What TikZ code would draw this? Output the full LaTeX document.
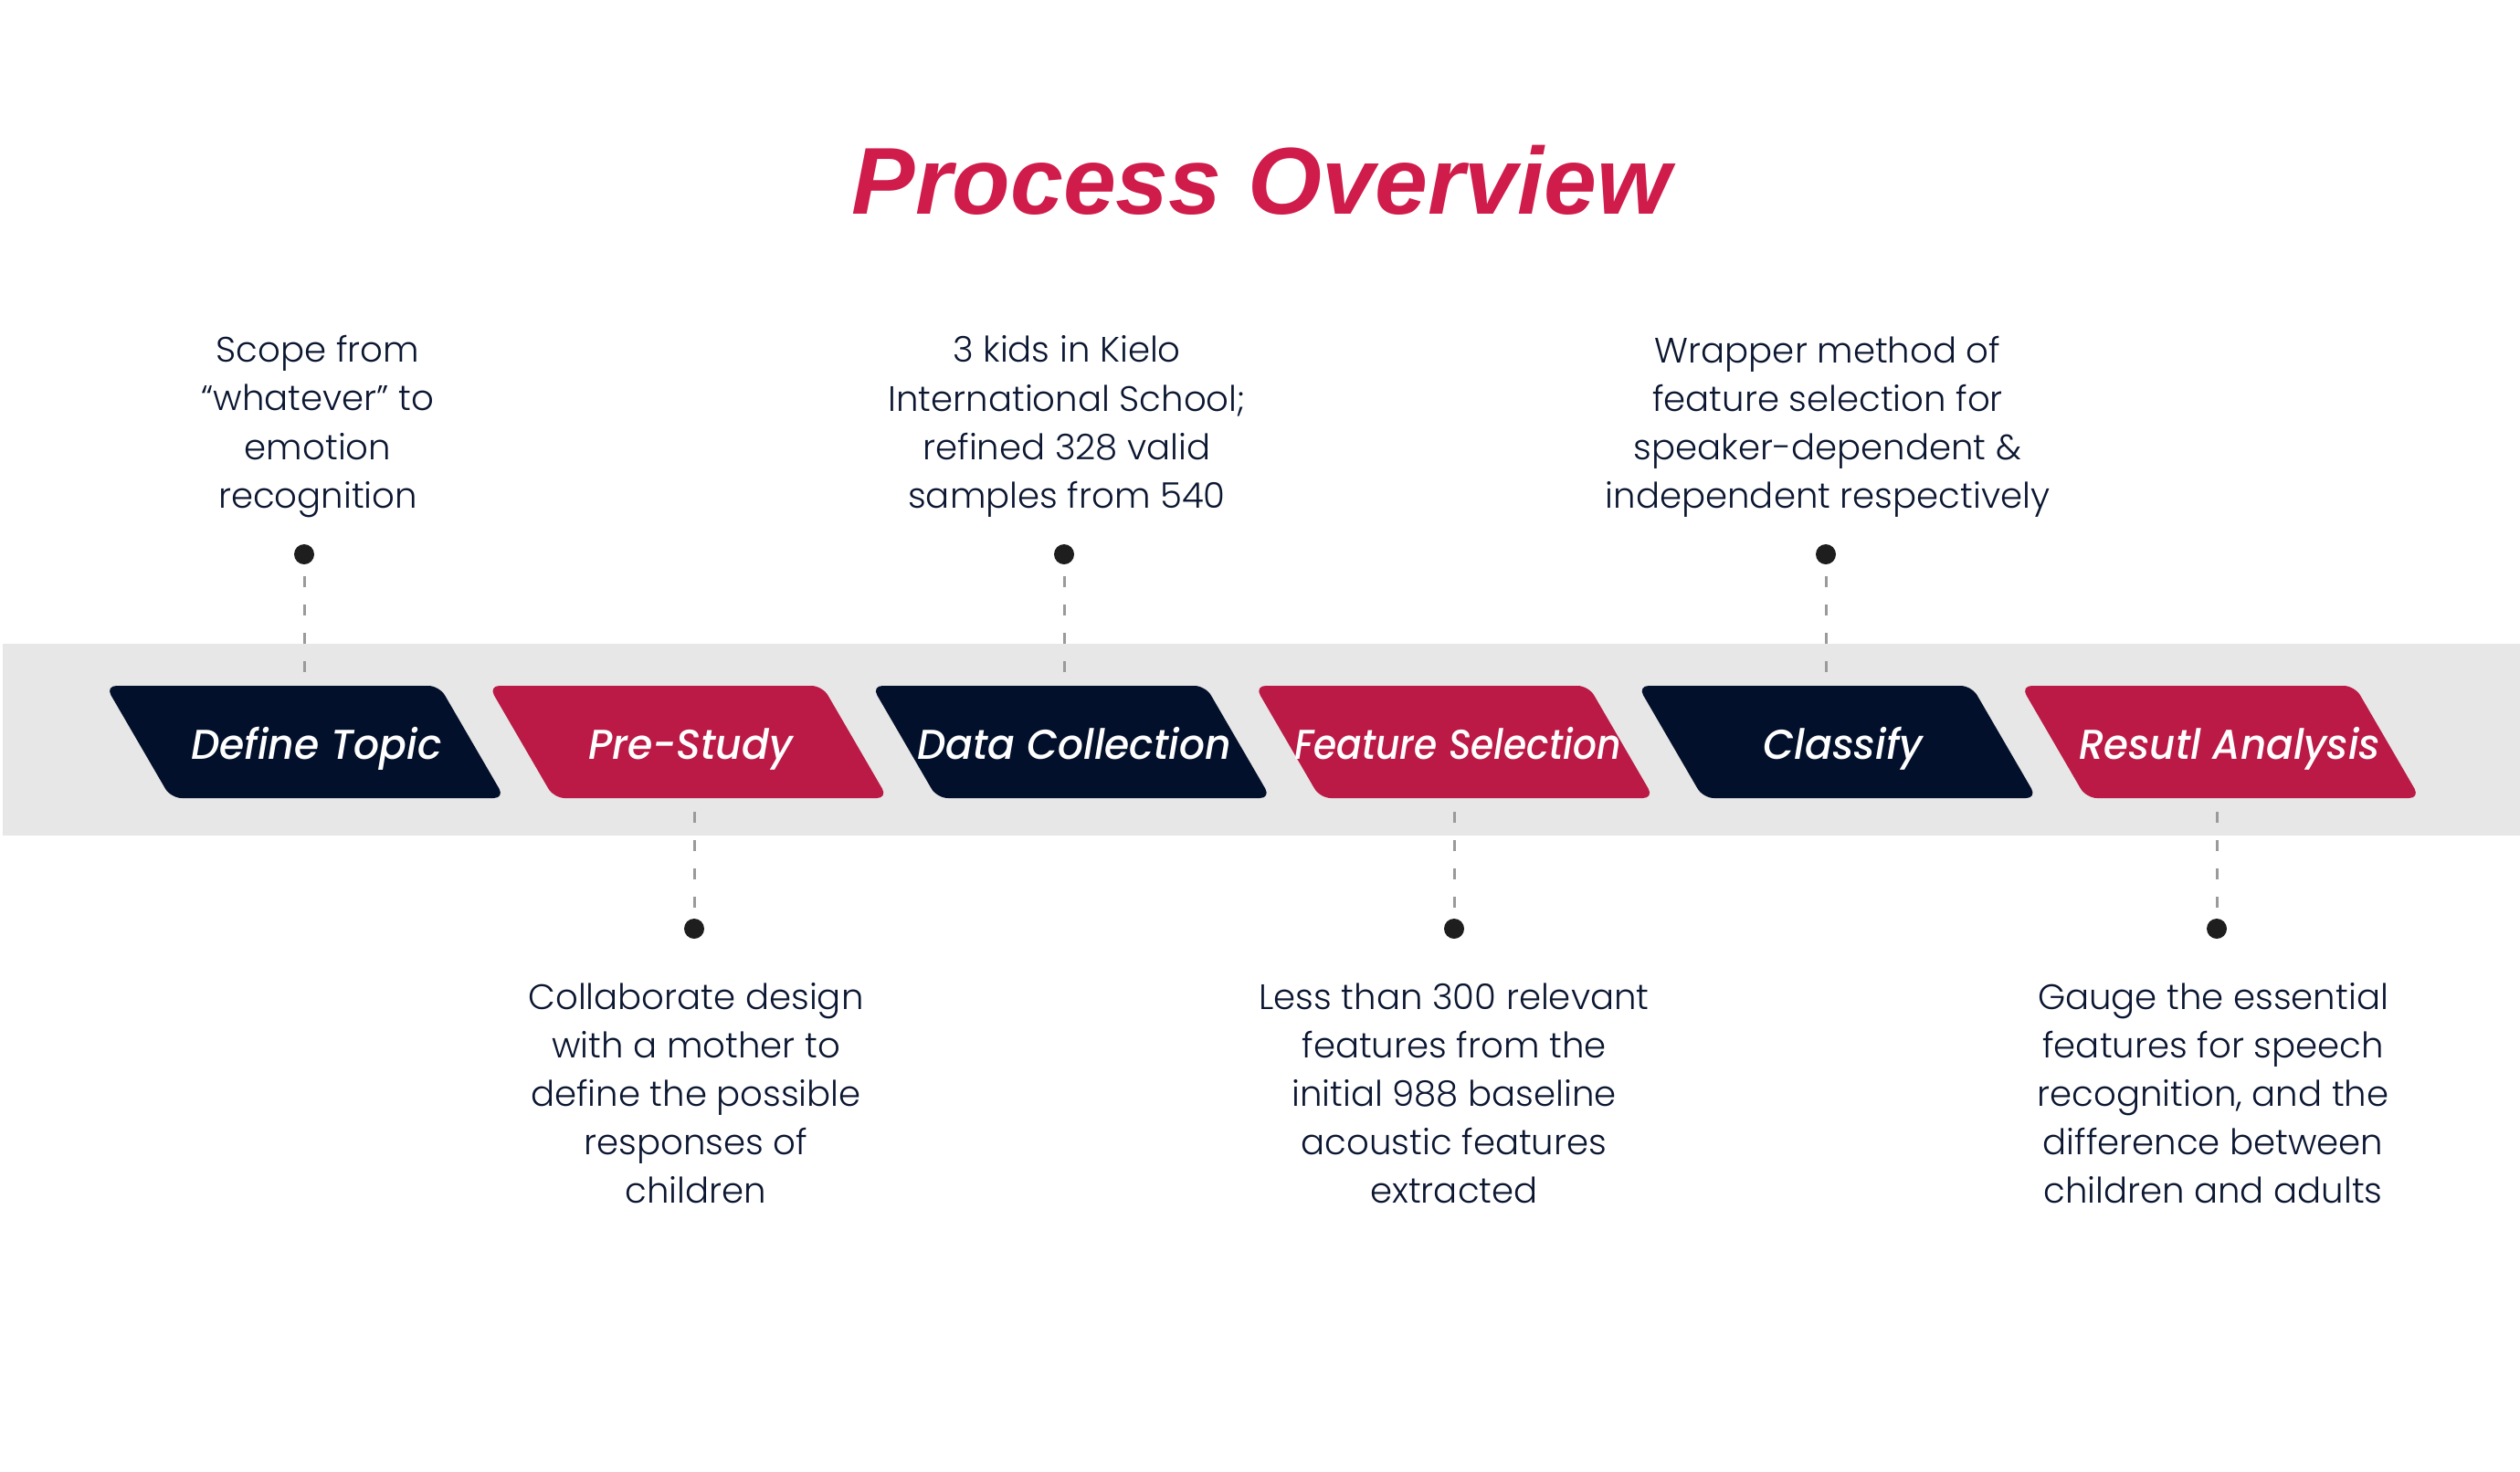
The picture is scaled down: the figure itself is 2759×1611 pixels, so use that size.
\documentclass[tikz,border=0pt]{standalone}
\usepackage{graphicx}
\usepackage{fontspec}
\setmainfont{Poppins}
\newfontfamily\titlefont{Liberation Sans}
\newfontfamily\stepfont{Poppins Medium Italic}
\newfontfamily\notefont{Poppins Light}
\definecolor{navy}{HTML}{02102B}
\definecolor{crimson}{HTML}{BA1A45}
\definecolor{titlered}{HTML}{D01C4B}
\definecolor{band}{HTML}{E7E7E7}
\definecolor{ink}{HTML}{0B1631}
\definecolor{leadgray}{HTML}{9A9A9A}
\definecolor{dotgray}{HTML}{1E1E1E}
\tikzset{
  x=0.1mm, y=-0.1mm,
  steptext/.style={anchor=base, inner sep=0pt, text=white,
    font=\stepfont\fontsize{13}{16}\selectfont},
  note/.style={align=center, inner sep=0pt, text=ink,
    font=\notefont\fontsize{11}{15.1}\selectfont},
  dot/.style={circle, fill=dotgray, inner sep=0pt, minimum size=2.2mm},
  leader/.style={draw=leadgray, line width=0.3mm, dash pattern=on 1.2mm off 1.9mm},
  slab/.style={rounded corners=1.2mm},
}
% parallelogram step box centred at x = #1
\newcommand{\slabat}[2]{%
  \fill[slab, #2] (#1-218.5,751) -- (#1+147,751) -- (#1+218.5,874)
    -- (#1-147,874) -- cycle;}
% step caption set to a given width, keeping its natural height
\newcommand{\fitto}[2]{\resizebox{#1}{\height}{#2}}
\begin{document}
\begin{tikzpicture}
\useasboundingbox (0,0) rectangle (2759,1611);
\fill[white] (0,0) rectangle (2759,1611);
% grey band behind the steps
\fill[band] (3,705) rectangle (2759,915);
% title
\node[anchor=base, inner sep=0pt, text=titlered,
  font=\titlefont\bfseries\itshape\fontsize{29.6}{36}\selectfont] (title) at (1381,234) {Process Overview};
% step boxes
\slabat{334}{navy}
\slabat{753.4}{crimson}
\slabat{1172.8}{navy}
\slabat{1592.2}{crimson}
\slabat{2011.6}{navy}
\slabat{2431}{crimson}
\node[steptext] (s1) at (346.5,831) {\fitto{27.5mm}{Define Topic}};
\node[steptext] (s2) at (756,831) {\fitto{22.4mm}{Pre-Study}};
\node[steptext] (s3) at (1176,831) {\fitto{34.4mm}{Data Collection}};
\node[steptext] (s4) at (1596,831) {\fitto{35.7mm}{Feature Selection}};
\node[steptext] (s5) at (2018,831) {\fitto{17.5mm}{Classify}};
\node[steptext] (s6) at (2441,831) {\fitto{33.0mm}{Resutl Analysis}};
% markers above and below the band
\node[dot] (d1) at (333,607) {};
\node[dot] (d3) at (1165,607) {};
\node[dot] (d5) at (1999,607) {};
\node[dot] (d2) at (760,1017) {};
\node[dot] (d4) at (1592,1017) {};
\node[dot] (d6) at (2427,1017) {};
\coordinate (a1) at (333,736);
\coordinate (a3) at (1165,736);
\coordinate (a5) at (1999,736);
\coordinate (a2) at (760,889);
\coordinate (a4) at (1592,889);
\coordinate (a6) at (2427,889);
\foreach \i in {1,...,6} {\draw[leader] (a\i) -- (d\i);}
% notes
\node[note] (n1) at (348,467) {Scope from\\“whatever” to\\emotion\\recognition};
\node[note] (n3) at (1168,467) {3 kids in Kielo\\International School;\\refined 328 valid\\samples from 540};
\node[note] (n5) at (2001,467) {Wrapper method of\\feature selection for\\speaker-dependent \&\\independent respectively};
\node[note] (n2) at (762,1197) {Collaborate design\\with a mother to\\define the possible\\responses of\\children};
\node[note] (n4) at (1592,1197) {Less than 300 relevant\\features from the\\initial 988 baseline\\acoustic features\\extracted};
\node[note] (n6) at (2423,1197) {Gauge the essential\\features for speech\\recognition, and the\\difference between\\children and adults};
\end{tikzpicture}
\end{document}
